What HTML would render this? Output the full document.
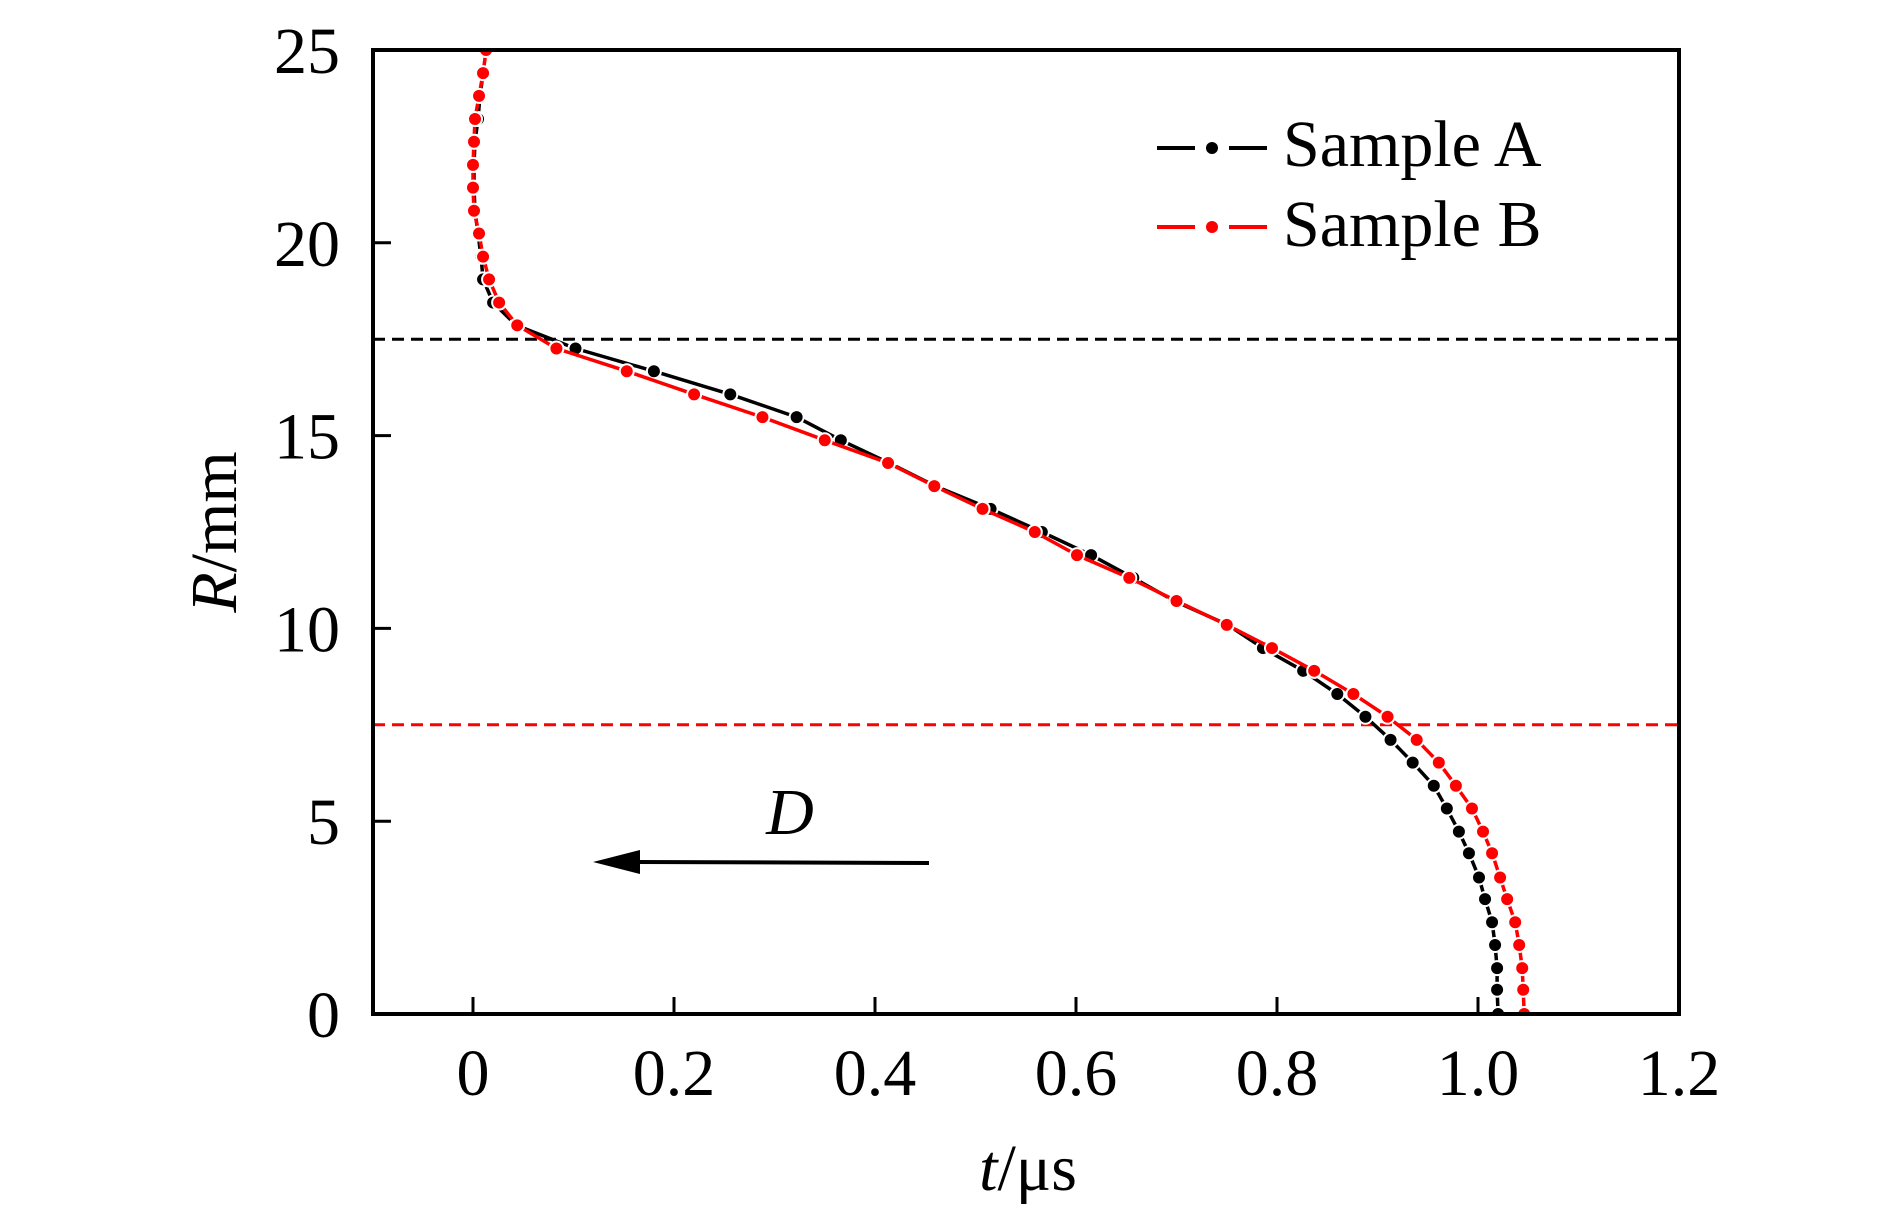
<!DOCTYPE html>
<html><head><meta charset="utf-8">
<style>
html,body{margin:0;padding:0;background:#fff;}
svg{display:block;font-family:"Liberation Serif","DejaVu Serif",serif;}
</style></head>
<body>
<svg id="chart" width="1890" height="1217" viewBox="0 0 1890 1217" xmlns="http://www.w3.org/2000/svg">
<defs><clipPath id="plotclip"><rect x="373" y="50" width="1306" height="964"/></clipPath></defs>
<g id="grid"></g>
<g id="series" clip-path="url(#plotclip)"></g>
<g id="axes"></g>
<g>
  <g>
    <line x1="1157" y1="148" x2="1267" y2="148" stroke="#000" stroke-width="4"/>
    <line x1="1195" y1="148" x2="1229" y2="148" stroke="#fff" stroke-width="6"/>
    <circle cx="1212" cy="148" r="6" fill="#000"/>
    <text x="1283" y="166" font-size="66" fill="#000">Sample A</text>
  </g>
  <g>
    <line x1="1157" y1="227" x2="1267" y2="227" stroke="#ff0000" stroke-width="4"/>
    <line x1="1195" y1="227" x2="1229" y2="227" stroke="#fff" stroke-width="6"/>
    <circle cx="1212" cy="227" r="6" fill="#ff0000"/>
    <text x="1283" y="246" font-size="66" fill="#000">Sample B</text>
  </g>
</g>
<g>
  <line x1="635" y1="862" x2="929" y2="863" stroke="#000" stroke-width="4"/>
  <polygon points="593,862 640,850 640,874" fill="#000"/>
  <text x="790" y="834" font-size="66" font-style="italic" text-anchor="middle">D</text>
</g>
<text x="1028" y="1190" font-size="66" text-anchor="middle"><tspan font-style="italic">t</tspan>/μs</text>
<text transform="translate(236,532) rotate(-90)" font-size="66" text-anchor="middle"><tspan font-style="italic">R</tspan>/mm</text>
</svg>
<script>
const xTicks = [0, 0.2, 0.4, 0.6, 0.8, 1.0, 1.2];
const xTickLabels = ["0", "0.2", "0.4", "0.6", "0.8", "1.0", "1.2"];
const yTicks = [0, 5, 10, 15, 20, 25];
const yTickLabels = ["0", "5", "10", "15", "20", "25"];
const refLines = [17.5, 7.5];
const refColors = ["#000000", "#ff0000"];
const sampleA_t = [1.020,1.019,1.019,1.017,1.014,1.007,1.001,0.991,0.981,0.969,0.956,0.935,0.913,0.888,0.860,0.826,0.786,0.751,0.698,0.657,0.615,0.566,0.515,0.460,0.414,0.366,0.322,0.256,0.180,0.102,0.043,0.020,0.010,0.008,0.005,0.002,0.001,0.001,0.002,0.005,0.007,0.010];
const sampleA_R = [0,0.63,1.19,1.79,2.38,2.98,3.54,4.17,4.73,5.33,5.92,6.52,7.11,7.71,8.30,8.90,9.49,10.09,10.71,11.31,11.90,12.50,13.10,13.69,14.29,14.88,15.48,16.07,16.67,17.26,17.86,18.45,19.05,19.64,20.24,20.83,21.43,22.02,22.62,23.21,23.81,24.40];
const sampleB_t = [1.046,1.045,1.044,1.041,1.037,1.029,1.022,1.014,1.005,0.994,0.978,0.961,0.939,0.910,0.876,0.837,0.795,0.750,0.700,0.653,0.601,0.559,0.507,0.459,0.413,0.350,0.288,0.220,0.153,0.083,0.044,0.026,0.016,0.010,0.006,0.001,0.000,0.000,0.001,0.002,0.006,0.010,0.013];
const sampleB_R = [0,0.63,1.19,1.79,2.38,2.98,3.54,4.17,4.73,5.33,5.92,6.52,7.11,7.71,8.30,8.90,9.49,10.09,10.71,11.31,11.90,12.50,13.10,13.69,14.29,14.88,15.48,16.07,16.67,17.26,17.86,18.45,19.05,19.64,20.24,20.83,21.43,22.02,22.62,23.21,23.81,24.40,25.0];

const NS = "http://www.w3.org/2000/svg";
const X0 = 473, XS = 1005;
const Y0 = 1014, YS = 38.56;
function xs(t){ return X0 + XS * t; }
function ys(r){ return Y0 - YS * r; }
function mk(tag, attrs, parent){
  const e = document.createElementNS(NS, tag);
  for (const k in attrs) e.setAttribute(k, attrs[k]);
  parent.appendChild(e);
  return e;
}
const series = document.getElementById('series');
const axes = document.getElementById('axes');

refLines.forEach((v, i) => {
  const l = mk('line', {x1: 373, x2: 1679, y1: ys(v), y2: ys(v), stroke: refColors[i], 'stroke-width': 3, 'stroke-dasharray': '12 7'}, series);
  
  
});

function drawSeries(ts, rs, color, name){
  const g = mk('g', {}, series);
  
  
  const pts = ts.map((t, i) => xs(t).toFixed(1) + ',' + ys(rs[i]).toFixed(1)).join(' ');
  const pl = mk('polyline', {points: pts, fill: 'none', stroke: color, 'stroke-width': 3.5, 'stroke-linejoin': 'round'}, g);
  
  
  ts.forEach((t, i) => {
    const c = mk('circle', {cx: xs(t), cy: ys(rs[i]), r: 7, fill: color, stroke: '#fff', 'stroke-width': 2}, g);
    
    
  });
}
drawSeries(sampleA_t, sampleA_R, '#000000', 'sample-a');
drawSeries(sampleB_t, sampleB_R, '#ff0000', 'sample-b');

const frame = mk('rect', {x: 373, y: 50, width: 1306, height: 964, fill: 'none', stroke: '#000', 'stroke-width': 4}, axes);



xTicks.forEach((v, i) => {
  const t = mk('line', {x1: xs(v), x2: xs(v), y1: 1014, y2: 997, stroke: '#000', 'stroke-width': 3}, axes);
  
  
  const lb = mk('text', {x: xs(v), y: 1095, 'font-size': 66, 'text-anchor': 'middle'}, axes);
  lb.textContent = xTickLabels[i];
  
  
});
yTicks.forEach((v, i) => {
  const t = mk('line', {x1: 373, x2: 391, y1: ys(v), y2: ys(v), stroke: '#000', 'stroke-width': 3}, axes);
  
  
  const lb = mk('text', {x: 340, y: ys(v) + 23, 'font-size': 66, 'text-anchor': 'end'}, axes);
  lb.textContent = yTickLabels[i];
  
  
});
</script>
</body></html>
